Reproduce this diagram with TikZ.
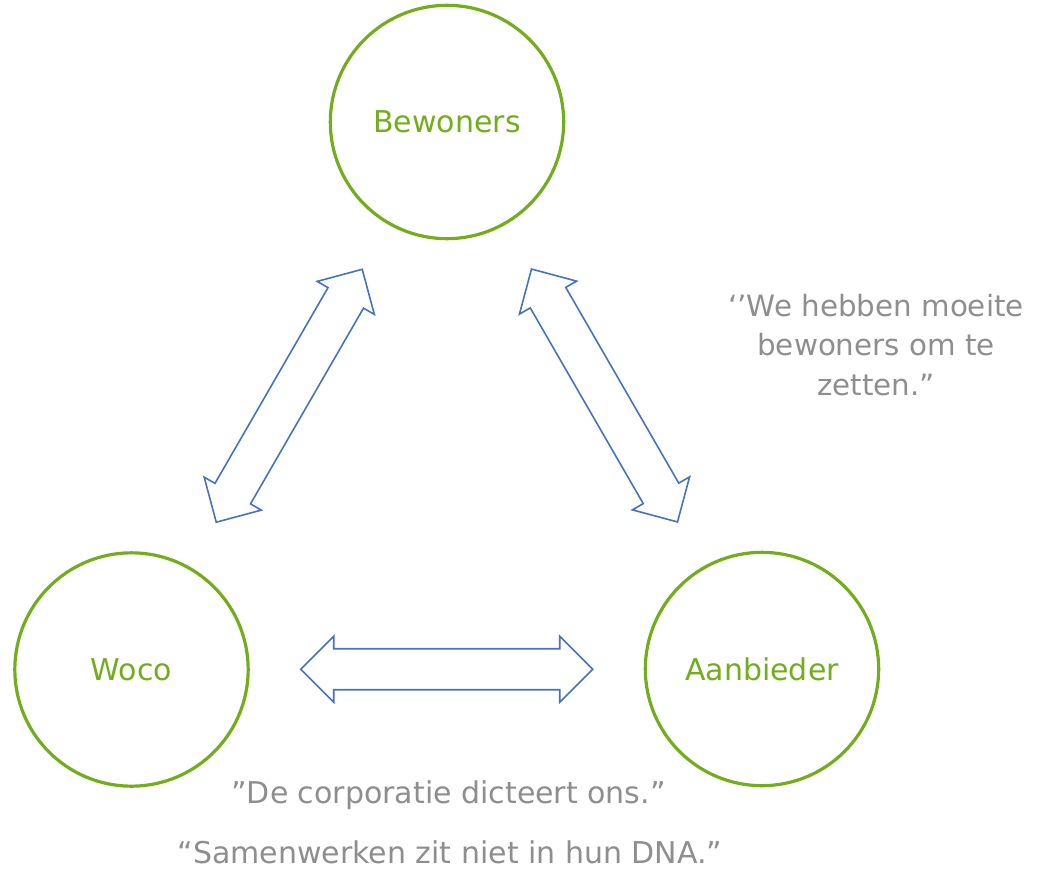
\documentclass[tikz,border=0pt]{standalone}
\usepackage{fontspec}
\setmainfont{DejaVu Sans}
\usetikzlibrary{calc}
\definecolor{ringgreen}{HTML}{72AE1C}
\definecolor{arrowblue}{HTML}{4472C4}
\definecolor{quotegrey}{HTML}{8E8E8E}
\tikzset{
  ring/.style={circle, draw=ringgreen, line width=2.4pt, minimum size=175pt, inner sep=0pt,
    text=ringgreen, font=\fontsize{22.5}{27}\selectfont},
  quote/.style={text=quotegrey, font=\fontsize{22.5}{29.6}\selectfont, align=center, inner sep=0pt},
  arrowline/.style={draw=arrowblue, line width=1.2pt, line join=miter, fill=white},
  blockarrow/.pic={\path[arrowline] (-146,0) -- (-113,33) -- (-113,20.5) -- (113,20.5) -- (113,33)
     -- (146,0) -- (113,-33) -- (113,-20.5) -- (-113,-20.5) -- (-113,-33) -- cycle;}
}
\begin{document}
\begin{tikzpicture}[x=0.75pt, y=-0.75pt]
\useasboundingbox (0,0) rectangle (1040,878);
\node[ring] (bew) at (447,122) {Bewoners};
\node[ring] (woco) at (131.5,669.5) {Woco};
\node[ring] (aanb) at (762,669) {Aanbieder};
\pic[rotate=60] (lw) at ($(bew)!0.5!(woco)$) {blockarrow};
\pic[rotate=-60] (ra) at ($(bew)!0.5!(aanb)$) {blockarrow};
\pic (wa) at ($(woco)!0.5!(aanb)$) {blockarrow};
\node[quote, font=\fontsize{22}{29.6}\selectfont] (q1) at (876,345) {‘’We hebben moeite\\bewoners om te\\zetten.”};
\node[quote, anchor=base] (q2) at (448.5,803) {”De corporatie dicteert ons.”};
\node[quote, anchor=base] (q3) at (450,863) {“Samenwerken zit niet in hun DNA.”};
\end{tikzpicture}
\end{document}
